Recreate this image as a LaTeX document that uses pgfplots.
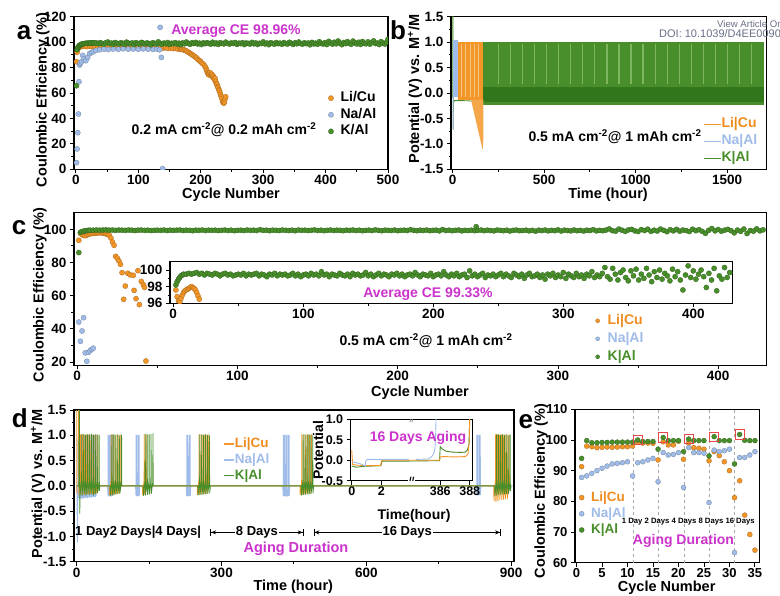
\documentclass[border=0pt]{standalone}
\usepackage{fontspec}
\setmainfont{Liberation Sans}
\usepackage{pgfplots}
\pgfplotsset{compat=1.18}
\usepackage{pgfplotstable}
\usetikzlibrary{arrows.meta}
\definecolor{licu}{RGB}{243,150,40}
\definecolor{licut}{RGB}{240,140,30}
\definecolor{naal}{RGB}{160,188,232}
\definecolor{kal}{RGB}{72,142,42}
\definecolor{kaldark}{RGB}{48,118,26}
\definecolor{kallight}{RGB}{125,182,95}
\definecolor{mag}{RGB}{204,51,204}
\definecolor{redbox}{RGB}{232,72,72}
\definecolor{wm}{RGB}{105,112,135}
\newcommand\fs[1]{\fontsize{#1}{#1}\selectfont\bfseries}
\pgfplotsset{
  base/.style={scale only axis, anchor=south west, axis line style={line width=1.2pt},
    tick style={line width=0.9pt, black}, major tick length=4pt, minor tick length=2.5pt,
    tick align=outside, tick pos=left, tick label style={font=\fs{13.5}},
    xticklabel style={yshift=1.5pt},
    /pgf/number format/assume math mode=true, /pgf/number format/set thousands separator={},
    clip marker paths=true, axis background/.style={fill=white}},
  mk/.style={only marks, mark=*, mark size=2.6pt, color=#1, mark options={fill=#1, draw=#1!70!black, line width=0.3pt}},
  ptlegend/.style 2 args={legend cell align=left,
    legend style={draw=none, fill=none, inner sep=0pt, outer sep=0pt,
      nodes={inner sep=0pt, text height=10pt, text depth=0pt}},
    legend image code/.code={\draw[##1, mark size=#1, yshift=-1.5pt] plot coordinates {(0pt,0pt)}; \path[draw=none, fill=none] (0pt,-1pt) rectangle (#2,-0.9pt);}},
  lnlegend/.style={legend cell align=left,
    legend style={draw=none, fill=none, inner sep=0pt, outer sep=0pt,
      nodes={inner sep=0pt, text height=10pt, text depth=0pt}},
    legend image code/.code={\draw[##1, yshift=-1.5pt] (0pt,0pt) -- (#1,0pt);}},
}
% panel c data
\pgfplotstableread[row sep=\\]{x y\\1 86.0\\2 98.2\\3 98.6\\4 98.9\\5 99.1\\6 99.3\\7 99.4\\8 99.5\\
10 99.5\\12 99.6\\14 99.5\\16 99.6\\18 99.7\\20 99.5\\22 99.6\\24 99.4\\26 99.6\\28 99.5\\30 99.4\\32 99.6\\34 99.5\\36 99.3\\38 99.5\\40 99.6\\42 99.4\\44 99.5\\46 99.3\\48 99.4\\
50 99.5\\52 99.4\\54 99.6\\56 99.3\\58 99.5\\60 99.4\\62 99.5\\64 99.6\\66 99.3\\68 99.5\\70 99.4\\72 99.2\\74 99.5\\76 99.4\\78 99.6\\80 99.3\\82 99.5\\84 99.4\\86 99.5\\88 99.3\\
90 99.4\\92 99.6\\94 99.3\\96 99.5\\98 99.2\\100 99.4\\102 99.5\\104 99.3\\106 99.6\\108 99.4\\110 99.5\\112 99.3\\114 99.8\\116 99.4\\118 99.5\\120 99.2\\122 99.5\\124 99.4\\126 99.3\\128 99.6\\
130 99.4\\132 99.3\\134 99.5\\136 99.2\\138 99.6\\140 99.4\\142 99.5\\144 99.3\\146 99.4\\148 99.7\\150 99.3\\152 99.5\\154 99.2\\156 99.4\\158 99.6\\160 99.3\\162 99.5\\164 99.4\\166 99.2\\168 99.5\\
170 99.4\\172 99.6\\174 99.3\\176 99.5\\178 99.2\\180 99.4\\182 99.5\\184 99.3\\186 99.7\\188 99.4\\190 99.2\\192 99.5\\194 99.4\\196 99.3\\198 99.6\\200 99.2\\202 99.4\\204 99.5\\206 99.3\\208 99.8\\
210 99.4\\212 99.2\\214 99.5\\216 99.3\\218 99.6\\220 99.2\\222 99.4\\224 99.5\\226 99.1\\228 99.9\\230 99.3\\232 99.5\\234 99.2\\236 99.4\\238 99.6\\240 99.1\\242 99.4\\244 99.3\\246 99.5\\248 99.2\\249 101.6\\
250 99.4\\252 99.6\\254 99.2\\256 99.5\\258 99.3\\260 99.1\\262 99.6\\264 99.4\\266 99.2\\268 99.5\\270 99.0\\272 99.4\\274 99.6\\276 99.2\\278 99.3\\280 99.5\\282 99.1\\284 99.4\\286 98.9\\288 99.5\\
290 99.3\\292 99.6\\294 99.1\\296 99.4\\298 99.2\\300 99.7\\302 99.0\\304 99.5\\306 99.3\\308 99.1\\310 99.6\\312 99.2\\314 99.4\\316 99.0\\318 99.5\\320 99.3\\322 99.8\\324 99.1\\326 99.4\\328 99.2\\330 99.6\\
332 100.3\\334 99.2\\336 98.9\\338 100.2\\340 99.5\\342 98.8\\344 99.7\\346 100.0\\348 99.1\\350 98.7\\352 99.9\\354 99.3\\356 100.1\\358 98.8\\360 99.5\\362 99.0\\364 100.2\\366 99.4\\368 98.6\\370 99.8\\
372 99.1\\374 100.0\\376 98.9\\378 99.6\\380 99.3\\382 98.7\\384 100.1\\386 99.2\\388 99.8\\390 98.8\\392 97.6\\394 99.4\\396 100.5\\398 99.1\\400 99.9\\402 98.9\\404 99.5\\406 100.0\\408 99.2\\410 97.9\\
412 99.6\\414 98.8\\416 100.2\\418 97.5\\420 99.3\\422 98.9\\424 100.3\\426 99.1\\428 99.7\\}\cgreen
\pgfplotstableread[row sep=\\]{x y\\1 93.4\\2 97.6\\3 96.8\\4 96.3\\5 96.2\\6 96.6\\7 97.0\\8 97.3\\9 97.5\\10 97.6\\11 97.7\\12 97.8\\13 97.9\\14 98.0\\15 97.9\\16 97.8\\17 97.6\\18 97.3\\19 96.9\\20 96.5\\21 94.8\\22 92.4\\23 90.4\\24 83.7\\25 82.6\\26 81.0\\27 78.9\\28 73.9\\29 57.8\\30 65.8\\31.5 73.5\\33 72.6\\35 72.3\\35.5 63.2\\36.7 58.2\\37.9 75.1\\38.8 54.6\\40 68.6\\41.3 66.6\\42 65.0\\42.9 20.6\\}\corange
\pgfplotstableread[row sep=\\]{x y\\1 44.1\\2 32.5\\3 38.7\\4 46.7\\5 25.5\\6 20.4\\7 25.8\\8 26.8\\9 27.6\\10 28.3\\}\cblue
\begin{document}
\begin{tikzpicture}
%%%%%%%%%%%%%%%% panel a
\begin{axis}[base, at={(74pt,-169.3pt)}, width=314pt, height=152.6pt,
  xmin=-3, xmax=500, ymin=0, ymax=120,
  xtick={0,100,...,500}, minor xtick={50,150,...,450},
  ytick={0,20,...,120}, minor ytick={10,30,...,110},
  ptlegend={2.6pt}{9.6pt}, legend style={at={(axis description cs:0.8102,0.367)}, anchor=west, row sep=6.6pt, font=\fs{14}}]
\addplot[mk=licu] coordinates {(1,84.6)(2,92.0)(3,94.6)(4,95.5)(6,96.0)(8,96.4)(10,96.6)(14,96.8)(18,96.5)(22,96.9)(26,96.6)(30,96.8)(35,96.5)(40,96.7)(45,96.4)(50,96.8)(55,96.5)(60,96.7)(65,96.3)(70,96.6)(75,96.4)(80,96.7)(85,96.2)(90,96.5)(95,96.3)(100,96.0)(104,96.4)(108,95.9)(112,96.2)(116,95.8)(120,96.1)(124,95.6)(128,96.0)(132,95.5)(136,95.8)(140,95.3)(144,95.6)(148,95.1)(152,95.4)(156,94.9)(160,95.2)(163,94.6)(166,94.9)(168,94.3)(170,94.5)(172,94.0)(174,93.8)(176,93.2)(178,92.8)(180,92.1)(182,91.6)(184,90.8)(186,90.3)(188,89.5)(190,88.9)(192,88.0)(194,87.3)(196,86.2)(198,85.5)(200,84.6)(202,83.5)(204,82.8)(206,81.5)(208,80.0)(209,78.5)(210,77.2)(211,75.8)(212,75.0)(213,74.2)(214,75.5)(215,76.0)(216,74.5)(217,73.8)(218,74.6)(219,72.5)(220,73.3)(221,71.8)(222,70.5)(223,71.5)(224,69.0)(225,67.5)(226,66.8)(227,65.0)(228,64.2)(229,62.5)(230,61.8)(231,60.0)(232,58.5)(233,57.0)(234,55.5)(235,53.5)(236,52.5)(237,52.0)(238,53.0)(239,55.5)(240,57.0)};
\addlegendentry{Li/Cu}
\addplot[mk=naal] coordinates {(1,5.2)(2,16.0)(3,28.8)(4,43.5)(5,68.9)(6,82.0)(7,83.5)(9,84.6)(11,89.6)(13,87.0)(16,85.4)(19,88.0)(22,91.0)(25,91.9)(28,92.5)(32,93.5)(38,94.0)(45,94.5)(52,94.2)(60,94.6)(68,94.4)(76,94.8)(84,94.5)(92,94.6)(100,94.4)(108,94.7)(116,94.5)(124,94.3)(130,94.6)(134,94.0)(135,111.6)(137,88.0)(139,0.5)};
\addlegendentry{Na/Al}
\addplot[mk=kal] coordinates {(1,65.7)(2,94.0)(3,95.6)(4,96.4)(5,97.0)(6,97.4)(7,97.8)(8,98.1)(9,98.3)(10,98.5)(12,98.7)(14,98.9)(16,99.1)(18,99.3)(20,99.0)(22,99.4)(24,99.2)(26,99.6)(28,99.1)(30,99.5)
(33,99.3)(36,98.7)(39,99.6)(42,99.0)(45,98.4)(48,99.5)(51,100.1)(54,98.9)(57,99.3)(60,98.2)
(63,99.7)(66,99.0)(69,98.6)(72,99.5)(75,99.1)(78,98.3)(81,100.0)(84,99.2)(87,98.8)(90,99.4)
(93,98.1)(96,99.6)(99,99.0)(102,98.5)(105,99.8)(108,99.2)(111,98.7)(114,99.4)(117,98.9)(120,98.0)
(123,99.5)(126,99.1)(129,98.6)(132,100.2)(135,99.0)(138,98.4)(141,99.3)(144,98.8)(147,99.7)(150,98.2)
(153,99.1)(156,98.9)(159,99.6)(162,98.5)(165,99.2)(168,98.0)(171,99.4)(174,98.7)(177,100.1)(180,99.0)
(183,98.3)(186,99.5)(189,98.9)(192,99.8)(195,98.6)(198,99.2)(201,98.1)(204,99.4)(207,98.8)(210,99.6)
(213,99.0)(216,98.4)(219,99.9)(222,98.7)(225,99.3)(228,98.2)(231,99.5)(234,99.0)(237,98.6)(240,100.0)
(243,99.1)(246,98.5)(249,99.4)(252,98.9)(255,99.7)(258,98.3)(261,99.2)(264,98.8)(267,99.6)(270,98.1)
(273,99.3)(276,99.0)(279,98.5)(282,99.8)(285,98.7)(288,99.4)(291,98.2)(294,99.1)(297,98.9)(300,100.2)
(303,98.6)(306,99.3)(309,98.0)(312,99.5)(315,99.0)(318,98.4)(321,99.7)(324,98.8)(327,99.2)(330,98.3)
(333,99.6)(336,98.9)(339,98.5)(342,99.9)(345,99.1)(348,98.2)(351,99.4)(354,98.7)(357,100.1)(360,99.0)
(363,98.4)(366,99.5)(369,98.8)(372,99.3)(375,97.9)(378,99.8)(381,98.6)(384,99.2)(387,98.3)(390,100.3)
(393,99.0)(396,98.5)(399,99.6)(402,98.1)(405,100.6)(408,99.3)(411,98.4)(414,99.9)(417,98.7)(420,100.9)
(423,99.2)(426,98.0)(429,99.7)(432,98.8)(435,100.4)(438,99.1)(441,98.3)(444,100.8)(447,99.4)(450,98.6)
(453,99.9)(456,98.2)(459,100.5)(462,99.0)(465,98.7)(468,100.2)(471,98.4)(474,99.6)(477,101.0)(480,98.9)
(483,99.3)(486,98.1)(489,100.4)(492,99.1)(495,98.5)(498,100.0)(500,102.3)};
\addlegendentry{K/Al}
\end{axis}
%%%%%%%%%%%%%%%% panel b
\begin{axis}[base, at={(451pt,-169.3pt)}, width=315.7pt, height=152.6pt,
  xmin=-9.3, xmax=1717, ymin=-1.5, ymax=1.5,
  xtick={0,500,1000,1500}, minor xtick={250,750,1250},
  ytick={-1.5,-1,-0.5,0,0.5,1,1.5}, minor ytick={-1.25,-0.75,-0.25,0.25,0.75,1.25},
  yticklabel style={/pgf/number format/.cd, fixed, fixed zerofill, precision=1},
  lnlegend=17pt, legend style={at={(axis description cs:0.798,0.192)}, anchor=west, row sep=7pt, font=\fs{14}}]
\addplot[kal, line width=0.8pt, forget plot] coordinates {(0,-0.1)(1,1.6)(2,1.6)(2.6,-0.72)(4,-0.2)(8,-0.15)(60,-0.15)(120,-0.16)(168,-0.17)};
\addplot[fill=kal, draw=none, forget plot] coordinates {(168,1.01)(1700,1.01)(1700,-0.23)(168,-0.23)} -- cycle;
\addplot[fill=kaldark, draw=none, forget plot] coordinates {(168,0.12)(1700,0.12)(1700,-0.17)(168,-0.17)} -- cycle;
\addplot[kallight, line width=1.3pt, unbounded coords=jump, forget plot] coordinates {(249,0.17)(249,0.97)(249,nan)(315,0.17)(315,0.97)(315,nan)(381,0.17)(381,0.97)(381,nan)(447,0.17)(447,0.97)(447,nan)(513,0.17)(513,0.97)(513,nan)(579,0.17)(579,0.97)(579,nan)(645,0.17)(645,0.97)(645,nan)(711,0.17)(711,0.97)(711,nan)(777,0.17)(777,0.97)(777,nan)(843,0.17)(843,0.97)(843,nan)(909,0.17)(909,0.97)(909,nan)(975,0.17)(975,0.97)(975,nan)(1041,0.17)(1041,0.97)(1041,nan)(1107,0.17)(1107,0.97)(1107,nan)(1173,0.17)(1173,0.97)(1173,nan)(1239,0.17)(1239,0.97)(1239,nan)(1305,0.17)(1305,0.97)(1305,nan)(1371,0.17)(1371,0.97)(1371,nan)(1437,0.17)(1437,0.97)(1437,nan)(1503,0.17)(1503,0.97)(1503,nan)(1569,0.17)(1569,0.97)(1569,nan)(1635,0.17)(1635,0.97)};
\addplot[fill=licu, draw=none, forget plot] coordinates {(31,1.01)(168,1.01)(168,-0.13)(31,-0.13)} -- cycle;
\addplot[fill=licu!85!white, draw=none, forget plot] coordinates {(100,-0.13)(168,-0.13)(167,-0.95)(164,-1.12)} -- cycle;
\addplot[licu!55!white, line width=0.8pt, unbounded coords=jump, forget plot] coordinates {(48,-0.08)(48,0.97)(48,nan)(72,-0.08)(72,0.97)(72,nan)(97,-0.08)(97,0.97)(97,nan)(118,-0.08)(118,0.97)(118,nan)(143,-0.08)(143,0.97)};
\addplot[fill=naal, draw=none, forget plot] coordinates {(2,1.05)(31,1.05)(31,-0.07)(2,-0.07)} -- cycle;
\addplot[naal, line width=0.8pt, forget plot] coordinates {(2,-0.07)(2.4,-0.72)(3,-0.07)};
\addlegendimage{licu, line width=1.6pt}\addlegendentry{\textcolor{licut}{Li|Cu}}
\addlegendimage{naal, line width=1.6pt}\addlegendentry{\textcolor{naal}{Na|Al}}
\addlegendimage{kal, line width=1.6pt}\addlegendentry{\textcolor{kal}{K|Al}}
\end{axis}
%%%%%%%%%%%%%%%% panel c
\begin{axis}[base, at={(74pt,-365.3pt)}, width=692.3pt, height=153pt,
  xmin=-2, xmax=430, ymin=18, ymax=110.3,
  xtick={0,100,...,400}, minor xtick={50,150,250,350},
  ytick={20,40,...,100}, minor ytick={30,50,70,90},
  ptlegend={2pt}{10pt}, legend style={at={(axis description cs:0.7535,0.183)}, anchor=west, row sep=8pt, font=\fs{14}}]
\addplot[mk=licu] table {\corange};
\addlegendentry{\textcolor{licut}{Li|Cu}}
\addplot[mk=naal] table {\cblue};
\addlegendentry{\textcolor{naal}{Na|Al}}
\addplot[mk=kal] table {\cgreen};
\addlegendentry{\textcolor{kal}{K|Al}}
\end{axis}
\begin{axis}[base, at={(170pt,-303.3pt)}, width=562.7pt, height=41.6pt,
  xmin=-2.5, xmax=430.3, ymin=96, ymax=101,
  xtick={0,100,...,400}, minor xtick={50,150,250,350},
  ytick={96,98,100}, minor ytick={97,99}]
\addplot[mk=licu] table {\corange};
\addplot[mk=kal] table {\cgreen};
\end{axis}
%%%%%%%%%%%%%%%% panel d
\begin{axis}[base, at={(74pt,-561.7pt)}, width=440pt, height=151.7pt,
  xmin=-5.6, xmax=906, ymin=-1.5, ymax=1.5,
  xtick={0,300,600,900}, minor xtick={150,450,750},
  ytick={-1.5,-1,-0.5,0,0.5,1,1.5}, minor ytick={-1.25,-0.75,-0.25,0.25,0.75,1.25},
  yticklabel style={/pgf/number format/.cd, fixed, fixed zerofill, precision=1},
  lnlegend=10.6pt, legend style={at={(axis description cs:0.338,0.6816)}, anchor=west, row sep=5.8pt, font=\fs{13.5}}]
\addplot[naal, line width=1pt, forget plot] coordinates {(0,0)(0.8,-0.05)(1.5,-1.12)(2.2,-0.25)
(2.5,-0.25)(2.7,1.0)(4.0,1.0)(4.2,-0.22)(6.5,-0.25)(6.7,1.0)(8.0,1.0)(8.2,-0.22)(10.5,-0.24)(10.7,1.0)(12.0,1.0)(12.2,-0.22)(14.5,-0.24)(14.7,1.0)(16.0,1.0)(16.2,-0.22)(18.5,-0.23)(18.7,1.0)(20.0,1.0)(20.2,-0.21)(22.5,-0.23)(22.7,1.0)(24.0,1.0)(24.2,-0.21)(26.5,-0.22)(26.7,1.0)(28.0,1.0)(28.2,-0.2)(30.5,-0.22)(30.7,1.0)(32.0,1.0)(32.2,-0.2)(34.5,-0.21)(34.7,1.0)(36.0,1.0)(36.2,-0.2)(38.5,-0.21)(38.7,1.0)(40.0,1.0)(40.2,-0.2)(41,0)(64,0)
(65,-0.2)(65.2,1.0)(66.5,1.0)(66.7,-0.2)(69,-0.2)(69.2,1.0)(70.5,1.0)(70.7,-0.2)(73,-0.2)(73.2,1.0)(74.5,1.0)(74.7,-0.2)(75.5,0)(122,0)
(123,-0.2)(123.2,1.0)(124.8,1.0)(125,-0.2)(127.5,-0.2)(127.7,1.0)(129.3,1.0)(129.5,-0.2)(130.5,0)(227,0)
(228,-0.2)(228.2,1.0)(230,1.0)(230.2,-0.2)(233,-0.2)(233.2,1.0)(235,1.0)(235.2,-0.2)(236.5,0)(427,0)
(428,-0.2)(428.2,1.0)(430,1.0)(430.2,-0.2)(433,-0.2)(433.2,1.0)(435,1.0)(435.2,-0.2)(438,-0.2)(438.2,1.0)(440,1.0)(440.2,-0.2)(441.5,0)(828,0)
(829,-0.18)(829.2,1.0)(831,1.0)(831.2,-0.18)(834,-0.18)(834.2,1.0)(836,1.0)(836.2,-0.18)(837.5,0)(903,0)};
\addplot[licu, line width=0.8pt, forget plot] coordinates {(0,-0.15)(0.3,1.6)(3.8,1.6)(4.1,-0.17)
(4.3,-0.17)(7.5,0.13)(7.7,1.02)(8.3,-0.18)(11.5,0.12)(11.7,1.02)(12.3,-0.17)(15.5,0.13)(15.7,1.01)(16.3,-0.18)(19.5,0.12)(19.7,1.02)(20.3,-0.17)(23.5,0.11)(23.7,1.02)(24.3,-0.17)(27.5,0.12)(27.7,1.01)(28.3,-0.16)(31.5,0.11)(31.7,1.02)(32.3,-0.17)(35.5,0.1)(35.7,1.01)(36.3,-0.16)(39.5,0.1)(39.7,1.02)(40.3,-0.15)(43.5,0.09)(43.7,1.01)(44.3,0)(67.5,0)
(68,-0.18)(71.2,0.13)(71.4,1.02)(72,-0.18)(75.2,0.12)(75.4,1.02)(76,-0.17)(79.2,0.12)(79.4,1.01)(80,-0.17)(83.2,0.11)(83.4,1.02)(84,-0.16)(87.2,0.1)(87.4,1.01)(88,-0.16)(91.2,0.1)(91.4,1.02)(92,0)(136,0)
(136.5,-0.18)(139.7,0.13)(139.9,1.02)(140.5,-0.17)(143.7,0.12)(143.9,1.02)(144.5,0)(249.5,0)
(250,-0.18)(253.2,0.13)(253.4,1.02)(254,-0.18)(257.2,0.12)(257.4,1.02)(258,-0.17)(261.2,0.12)(261.4,1.01)(262,-0.17)(265.2,0.11)(265.4,1.02)(266,-0.16)(269.2,0.1)(269.4,1.01)(270,-0.16)(273.2,0.1)(273.4,1.02)(274,0)(462.5,0)
(463,-0.18)(466.2,0.13)(466.4,1.02)(467,-0.18)(470.2,0.12)(470.4,1.02)(471,-0.17)(474.2,0.12)(474.4,1.01)(475,-0.17)(478.2,0.11)(478.4,1.02)(479,-0.16)(482.2,0.1)(482.4,1.01)(483,-0.16)(486.2,0.1)(486.4,1.02)(487,0)(864,0)
(864.5,-0.3)(867.7,0.15)(867.9,1.02)(868.5,-0.32)(871.7,0.14)(871.9,1.02)(872.5,-0.3)(875.7,0.14)(875.9,1.01)(876.5,-0.28)(879.7,0.13)(879.9,1.02)(880.5,-0.28)(883.7,0.12)(883.9,1.01)(884.5,-0.27)(887.7,0.12)(887.9,1.02)(888.5,-0.26)(891.7,0.11)(891.9,1.01)(892.5,-0.25)(895.7,0.1)(895.9,1.02)(896.5,0)};
\addplot[kal, line width=0.8pt, forget plot] coordinates {(0,0)(4.5,0)(5.5,1.55)(6.3,-0.55)(7,-0.18)
(10.2,0.14)(10.5,1.02)(11,-0.2)(14.2,0.13)(14.5,1.03)(15,-0.17)(18.2,0.12)(18.5,1.01)(19,-0.19)(22.2,0.14)(22.5,1.02)(23,-0.16)(26.2,0.1)(26.5,1.02)(27,-0.18)(30.2,0.13)(30.5,1.03)(31,-0.17)(34.2,0.11)(34.5,1.01)(35,-0.19)(38.2,0.12)(38.5,1.02)(39,-0.16)(42.2,0.1)(42.5,1.02)(43,-0.15)(46.2,0.08)(46.5,1.01)(47,-0.1)(48,0)(69,0)
(69.5,-0.2)(72.7,0.12)(73,1.02)(73.5,-0.19)(76.7,0.1)(77,1.02)(77.5,-0.18)(80.7,0.11)(81,1.01)(81.5,-0.17)(84.7,0.1)(85,1.02)(85.5,-0.16)(88.7,0.09)(89,1.0)(89.5,-0.15)(92.7,0.08)(93,1.01)(93.5,0)(138,0)
(138.5,-0.2)(141.7,0.12)(142,1.03)(142.5,-0.19)(145.7,0.11)(146,1.02)(146.5,-0.18)(149.7,0.1)(150,1.02)(150.5,-0.17)(153.7,0.1)(154,1.03)(154.5,-0.16)(157.7,0.08)(158,1.04)(158.5,0)(251,0)
(251.5,-0.19)(254.7,0.12)(255,1.02)(255.5,-0.18)(258.7,0.11)(259,1.02)(259.5,-0.18)(262.7,0.1)(263,1.01)(263.5,-0.17)(266.7,0.1)(267,1.02)(267.5,-0.17)(270.7,0.09)(271,1.01)(271.5,-0.16)(274.7,0.08)(275,1.0)(275.5,-0.15)(277,0)(465,0)
(465.5,-0.19)(468.7,0.12)(469,1.02)(469.5,-0.18)(472.7,0.11)(473,1.02)(473.5,-0.18)(476.7,0.1)(477,1.01)(477.5,-0.17)(480.7,0.1)(481,1.02)(481.5,-0.17)(484.7,0.09)(485,1.01)(485.5,-0.16)(488.7,0.08)(489,1.0)(489.5,-0.15)(491,0)(866,0)
(866.5,-0.2)(869.7,0.12)(870,1.02)(870.5,-0.19)(873.7,0.11)(874,1.02)(874.5,-0.18)(877.7,0.1)(878,1.01)(878.5,-0.18)(881.7,0.1)(882,1.02)(882.5,-0.17)(885.7,0.09)(886,1.01)(886.5,-0.17)(889.7,0.09)(890,1.02)(890.5,-0.16)(893.7,0.08)(894,1.0)(894.5,-0.16)(897.7,0.08)(898,1.01)(898.5,-0.1)(900,0)};
\addlegendimage{licu, line width=1.6pt}\addlegendentry{\textcolor{licut}{Li|Cu}}
\addlegendimage{naal, line width=1.6pt}\addlegendentry{\textcolor{naal}{Na|Al}}
\addlegendimage{kal, line width=1.6pt}\addlegendentry{\textcolor{kal}{K|Al}}
\draw[line width=0.8pt, {Bar[width=7pt]Stealth[length=5pt,width=4pt]}-{Stealth[length=5pt,width=4pt]Bar[width=7pt]}] (axis cs:276.8,-0.92) -- (axis cs:470,-0.92) node[midway, fill=white, inner sep=1pt, font=\fs{13}] {8 Days};
\draw[line width=0.8pt, {Bar[width=7pt]Stealth[length=5pt,width=4pt]}-{Stealth[length=5pt,width=4pt]Bar[width=7pt]}] (axis cs:490.7,-0.92) -- (axis cs:879,-0.92) node[midway, fill=white, inner sep=1pt, font=\fs{13}] {16 Days};
\end{axis}
\begin{axis}[base, at={(350.7pt,-480.7pt)}, width=122pt, height=61.4pt,
  xmin=-0.07, xmax=8.2, ymin=-0.5, ymax=1.0,
  xtick={0,2,6,8}, xticklabels={0,2,386,388}, tick label style={font=\fs{12.5}},
  ytick={-0.5,0,0.5,1}, yticklabel style={/pgf/number format/.cd, fixed, fixed zerofill, precision=1}]
\addplot[kal, line width=0.9pt] coordinates {(0,-0.14)(0.3,-0.17)(0.8,-0.15)(1.5,-0.14)(1.98,-0.13)(2.05,-0.02)(3.9,-0.02)(5.95,-0.01)(6.0,0.33)(6.15,0.27)(6.4,0.22)(6.8,0.2)(7.4,0.19)(7.7,0.2)(7.85,0.26)(7.95,0.4)(8.0,1.05)};
\addplot[licu, line width=0.9pt] coordinates {(0,0.25)(0.06,-0.1)(0.3,-0.12)(1,-0.13)(1.95,-0.13)(2.0,-0.05)(2.05,0.0)(5.95,0.0)(6.0,0.08)(6.2,0.09)(7.0,0.08)(7.7,0.09)(7.88,0.15)(7.96,0.45)(8.0,1.05)};
\addplot[naal, line width=0.9pt, unbounded coords=jump] coordinates {(0,-0.04)(0.3,-0.06)(0.7,-0.1)(0.92,-0.15)(0.95,-0.02)(1.05,0.02)(2,0.02)(3.85,0.02)(4.1,nan)(4.35,0.02)(5.2,0.03)(5.4,0.08)(5.55,0.15)(5.63,0.25)(5.68,0.5)(5.72,1.05)};
\node[font=\fs{10}, inner sep=0.5pt, fill=white] at (axis cs:4.06,-0.5) {//};
\node[font=\fs{7}, text=gray, inner sep=0.5pt] at (axis cs:4.06,0.98) {//};
\end{axis}
%%%%%%%%%%%%%%%% panel e
\begin{axis}[base, at={(575pt,-562.7pt)}, width=184.5pt, height=153.4pt,
  xmin=-0.3, xmax=35.9, ymin=60, ymax=110,
  xtick={0,5,...,35}, ytick={60,70,...,110},
  tick label style={font=\fs{13}},
  ptlegend={2.5pt}{9.5pt}, legend style={at={(axis description cs:0.0228,0.3286)}, anchor=west, row sep=6.2pt, font=\fs{13.5}}]
\addplot[gray!70, dashed, line width=0.6pt, unbounded coords=jump, forget plot] coordinates {(11.05,60)(11.05,110)(11.05,nan)(16.05,60)(16.05,110)(16.05,nan)(21.05,60)(21.05,110)(21.05,nan)(26.05,60)(26.05,110)(26.05,nan)(31.05,60)(31.05,110)};
\addplot[mk=licu, mark size=2.5pt] coordinates {(1,91.3)(2,98.0)(3,97.8)(4,97.5)(5,97.6)(6,97.7)(7,97.6)(8,97.7)(9,97.8)(10,97.8)(11,98.0)(12,99.3)(13,99.0)(14,99.0)(15,98.9)(16,93.5)(17,99.4)(18,98.4)(19,98.4)(20,99.6)(21,93.7)(22,99.0)(23,97.5)(24,97.3)(25,97.0)(26,93.2)(27,96.2)(28,94.9)(29,92.9)(30,90.0)(31,81.2)(32,86.7)(33,75.5)(34,69.2)(35,64.1)};
\addlegendentry{\textcolor{licut}{Li|Cu}}
\addplot[mk=naal, mark size=2.5pt] coordinates {(1,87.8)(2,88.3)(3,89.1)(4,90.0)(5,90.8)(6,91.5)(7,92.2)(8,92.4)(9,92.6)(10,92.9)(11,88.3)(12,92.6)(13,92.9)(14,93.5)(15,94.0)(16,86.4)(17,95.9)(18,95.1)(19,95.3)(20,95.9)(21,84.5)(22,97.5)(23,95.9)(24,95.9)(25,95.7)(26,79.6)(27,96.7)(28,96.2)(29,96.5)(30,97.0)(31,63.3)(32,94.3)(33,94.3)(34,95.1)(35,96.2)(36,96.2)};
\addlegendentry{\textcolor{naal}{Na|Al}}
\addplot[mk=kal, mark size=2.5pt] coordinates {(1,94.0)(2,99.8)(3,99.1)(4,99.1)(5,99.2)(6,99.2)(7,99.3)(8,99.3)(9,99.3)(10,99.3)(11,99.3)(12,100.0)(13,99.5)(14,99.5)(15,99.5)(16,97.0)(17,100.8)(18,99.8)(19,99.8)(20,99.8)(21,96.2)(22,100.3)(23,99.8)(24,99.8)(25,99.8)(26,94.8)(27,101.1)(28,99.8)(29,99.8)(30,99.8)(31,92.2)(32,101.8)(33,99.9)(34,99.8)(35,99.8)(36,99.8)};
\addlegendentry{\textcolor{kal}{K|Al}}
\addplot[only marks, mark=square, mark size=4.6pt, mark options={draw=redbox, line width=1pt, fill=none}, forget plot] coordinates {(12,100.0)(17,100.8)(22,100.3)(27,101.1)(32,101.8)};
\end{axis}
%%%%%%%%%%%%%%%% texts
\begin{scope}[every node/.style={font=\fs{14.5}}]
\node[font=\fs{26}, anchor=base west, inner sep=0pt] at (16.7pt,-39.3pt) {a};
\node[font=\fs{26}, anchor=base west, inner sep=0pt] at (390pt,-40pt) {b};
\node[font=\fs{26}, anchor=base west, inner sep=0pt] at (11.7pt,-235pt) {c};
\node[font=\fs{26}, anchor=base west, inner sep=0pt] at (11.7pt,-427.7pt) {d};
\node[font=\fs{26}, anchor=base west, inner sep=0pt] at (518.3pt,-428.3pt) {e};
\node[rotate=90] at (43pt,-100pt) {Coulombic Efficiency (\%)};
\node at (231pt,-195pt) {Cycle Number};
\node[rotate=90] at (415pt,-89pt) {Potential (V) vs. M\textsuperscript{+}/M};
\node at (608pt,-194.5pt) {Time (hour)};
\node[rotate=90] at (40pt,-295pt) {Coulombic Efficiency (\%)};
\node at (420pt,-393pt) {Cycle Number};
\node[rotate=90] at (38pt,-484pt) {Potential (V) vs. M\textsuperscript{+}/M};
\node at (293.3pt,-586.5pt) {Time (hour)};
\node[rotate=90] at (541pt,-491pt) {Coulombic Efficiency (\%)};
\node at (666.7pt,-588pt) {Cycle Number};
\node[rotate=90, font=\fs{14}] at (318pt,-450pt) {Potential};
\node[font=\fs{14}] at (414pt,-516pt) {Time(hour)};
\node[font=\fs{14}, text=mag] at (236pt,-31pt) {Average CE 98.96\%};
\node[font=\fs{14}] at (224pt,-130pt) {0.2 mA cm\textsuperscript{-2}@ 0.2 mAh cm\textsuperscript{-2}};
\node[font=\fs{14}] at (615pt,-137pt) {0.5 mA cm\textsuperscript{-2}@ 1 mAh cm\textsuperscript{-2}};
\node[font=\fs{14}, text=mag] at (428pt,-294pt) {Average CE 99.33\%};
\node[font=\fs{14}] at (426pt,-341pt) {0.5 mA cm\textsuperscript{-2}@ 1 mAh cm\textsuperscript{-2}};
\node[font=\fs{13}, anchor=west, inner sep=0pt] at (75pt,-532.3pt) {1 Day2 Days|4 Days|};
\node[text=mag] at (296pt,-549pt) {Aging Duration};
\node[font=\fs{14}, text=mag] at (418pt,-438.3pt) {16 Days Aging};
\node[font=\fs{7.7}] at (688.3pt,-521.7pt) {1 Day 2 Days 4 Days 8 Days 16 Days};
\node[font=\fs{14}, text=mag] at (683.5pt,-540.7pt) {Aging Duration};
\node[font=\fontsize{9.6}{11}\selectfont, text=wm, anchor=west, inner sep=0pt] at (717pt,-24pt) {View Article Online};
\node[font=\fontsize{11}{12}\selectfont, text=wm, anchor=west, inner sep=0pt] at (659pt,-33.3pt) {DOI: 10.1039/D4EE00906A};
\end{scope}
\pgfresetboundingbox
\path (0pt,0pt) rectangle (780pt,-596pt);
\end{tikzpicture}
\end{document}
